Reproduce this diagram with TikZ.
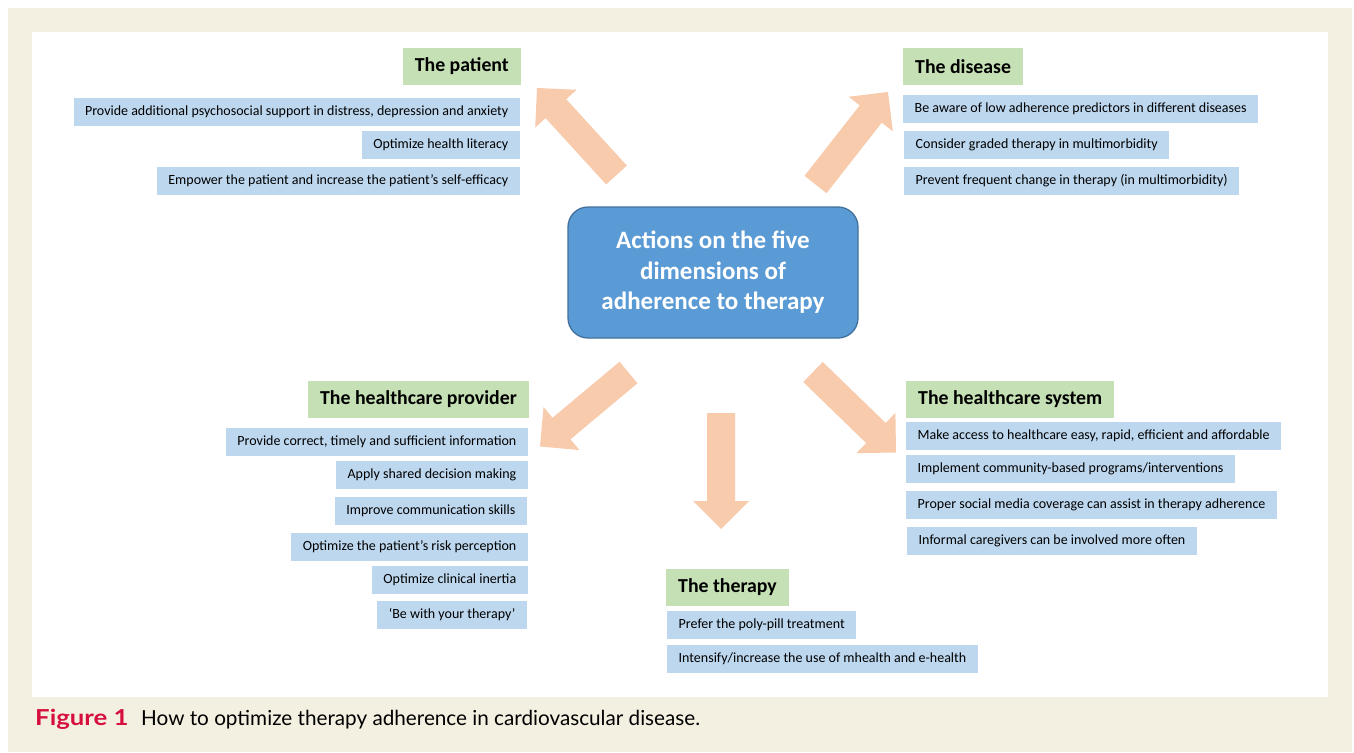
\documentclass[tikz,border=0pt]{standalone}
\usepackage{fontspec}
\usepackage{xcolor}
\usetikzlibrary{calc}
\setmainfont{Carlito}
\newfontfamily\capfont{Lato}

\definecolor{pagebeige}{RGB}{244,240,225}
\definecolor{headgreen}{RGB}{197,224,180}
\definecolor{itemblue}{RGB}{189,215,238}
\definecolor{midblue}{RGB}{91,155,213}
\definecolor{midborder}{RGB}{65,113,156}
\definecolor{peach}{RGB}{248,203,173}
\definecolor{figred}{RGB}{214,16,62}

% fat arrow from #1 (tail) to #2 (tip)
\newcommand{\blockarrow}[2]{%
  \coordinate (#2-b) at ($(#2)!28pt!(#1)$);
  \fill[peach arrow] ($(#1)!14pt!90:(#2)$) -- ($(#2-b)!14pt!90:(#2)$)
    -- ($(#2-b)!28pt!90:(#2)$) -- (#2) -- ($(#2-b)!28pt!-90:(#2)$)
    -- ($(#2-b)!14pt!-90:(#2)$) -- ($(#1)!14pt!-90:(#2)$) -- cycle;}

\begin{document}
\begin{tikzpicture}%
  [x=1pt,y=-1pt,
   peach arrow/.style={fill=peach}]
  \tikzstyle{head node}=[rectangle,fill=headgreen,inner xsep=12pt,minimum height=37pt,
    font=\fontsize{19.8}{22}\selectfont\bfseries]
  \tikzstyle{item node}=[rectangle,fill=itemblue,inner xsep=11.5pt,minimum height=28pt,
    font=\fontsize{14}{16}\selectfont]
  \tikzstyle{hub node}=[rectangle,rounded corners=20pt,fill=midblue,draw=midborder,line width=1.3pt,
    minimum width=290pt,minimum height=131pt,align=center,text=white,
    font=\fontsize{25}{30.5}\selectfont\bfseries]

  % page
  \fill[white] (0,0) rectangle (1354,752);
  \fill[pagebeige] (8,8) rectangle (1352,752);
  \fill[white] (32,32) rectangle (1328,697);
  \useasboundingbox (0,0) rectangle (1354,752);

  \node(hub)[hub node] at (713,272.5) {\rule{0pt}{3pt}Actions on the five\\dimensions of\\adherence to therapy};

  % the patient
  \node(pat)[head node,anchor=east] at (521,66.5) {The patient};
  \node(pat1)[item node,anchor=east] at (520,111.5) {Provide additional psychosocial support in distress, depression and anxiety};
  \node(pat2)[item node,anchor=east] at (520,145) {Optimize health literacy};
  \node(pat3)[item node,anchor=east] at (520,181) {Empower the patient and increase the patient’s self-efficacy};

  % the disease
  \node(dis)[head node,anchor=west] at (903,66.5) {The disease};
  \node(dis1)[item node,anchor=west] at (903,109) {Be aware of low adherence predictors in different diseases};
  \node(dis2)[item node,anchor=west] at (904,145) {Consider graded therapy in multimorbidity};
  \node(dis3)[item node,anchor=west] at (904,181) {Prevent frequent change in therapy (in multimorbidity)};

  % the healthcare provider
  \node(prov)[head node,anchor=east] at (529,399.5) {The healthcare provider};
  \node(prov1)[item node,anchor=east] at (528,441.5) {Provide correct, timely and sufficient information};
  \node(prov2)[item node,anchor=east] at (528,475) {Apply shared decision making};
  \node(prov3)[item node,anchor=east] at (527,511) {Improve communication skills};
  \node(prov4)[item node,anchor=east] at (528,546.5) {Optimize the patient’s risk perception};
  \node(prov5)[item node,anchor=east] at (528,580) {Optimize clinical inertia};
  \node(prov6)[item node,anchor=east] at (527,615) {‘Be with your therapy’};

  % the healthcare system
  \node(sys)[head node,anchor=west] at (906,399) {The healthcare system};
  \node(sys1)[item node,anchor=west] at (906,436) {Make access to healthcare easy, rapid, efficient and affordable};
  \node(sys2)[item node,anchor=west] at (906,469) {Implement community-based programs/interventions};
  \node(sys3)[item node,anchor=west] at (906,505) {Proper social media coverage can assist in therapy adherence};
  \node(sys4)[item node,anchor=west] at (907,541) {Informal caregivers can be involved more often};

  % the therapy
  \node(ther)[head node,anchor=west] at (666,587.5) {The therapy};
  \node(ther1)[item node,anchor=west] at (667,625) {Prefer the poly-pill treatment};
  \node(ther2)[item node,anchor=west] at (667,659) {Intensify/increase the use of mhealth and e-health};

  % arrows out of the hub
  \coordinate(tNW) at (616.5,175);  \coordinate(hNW) at (537,88);
  \coordinate(tNE) at (815.5,184.5);\coordinate(hNE) at (888,92);
  \coordinate(tSW) at (628.5,372.5);\coordinate(hSW) at (540,446.5);
  \coordinate(tS) at (721,413);     \coordinate(hS) at (721,529);
  \coordinate(tSE) at (813,372);    \coordinate(hSE) at (896,452.5);
  \blockarrow{tNW}{hNW}
  \blockarrow{tNE}{hNE}
  \blockarrow{tSW}{hSW}
  \blockarrow{tS}{hS}
  \blockarrow{tSE}{hSE}

  % caption
  \node(fig)[anchor=base west,inner sep=0,text=figred,font=\capfont\fontsize{22}{24}\selectfont\bfseries] at (35,725)
    {\scalebox{1.17}[1]{Figure 1}};
  \node(cap)[anchor=base west,inner sep=0,font=\capfont\fontsize{20.7}{24}\selectfont] at (141,725)
    {How to optimize therapy adherence in cardiovascular disease.};
\end{tikzpicture}
\end{document}
